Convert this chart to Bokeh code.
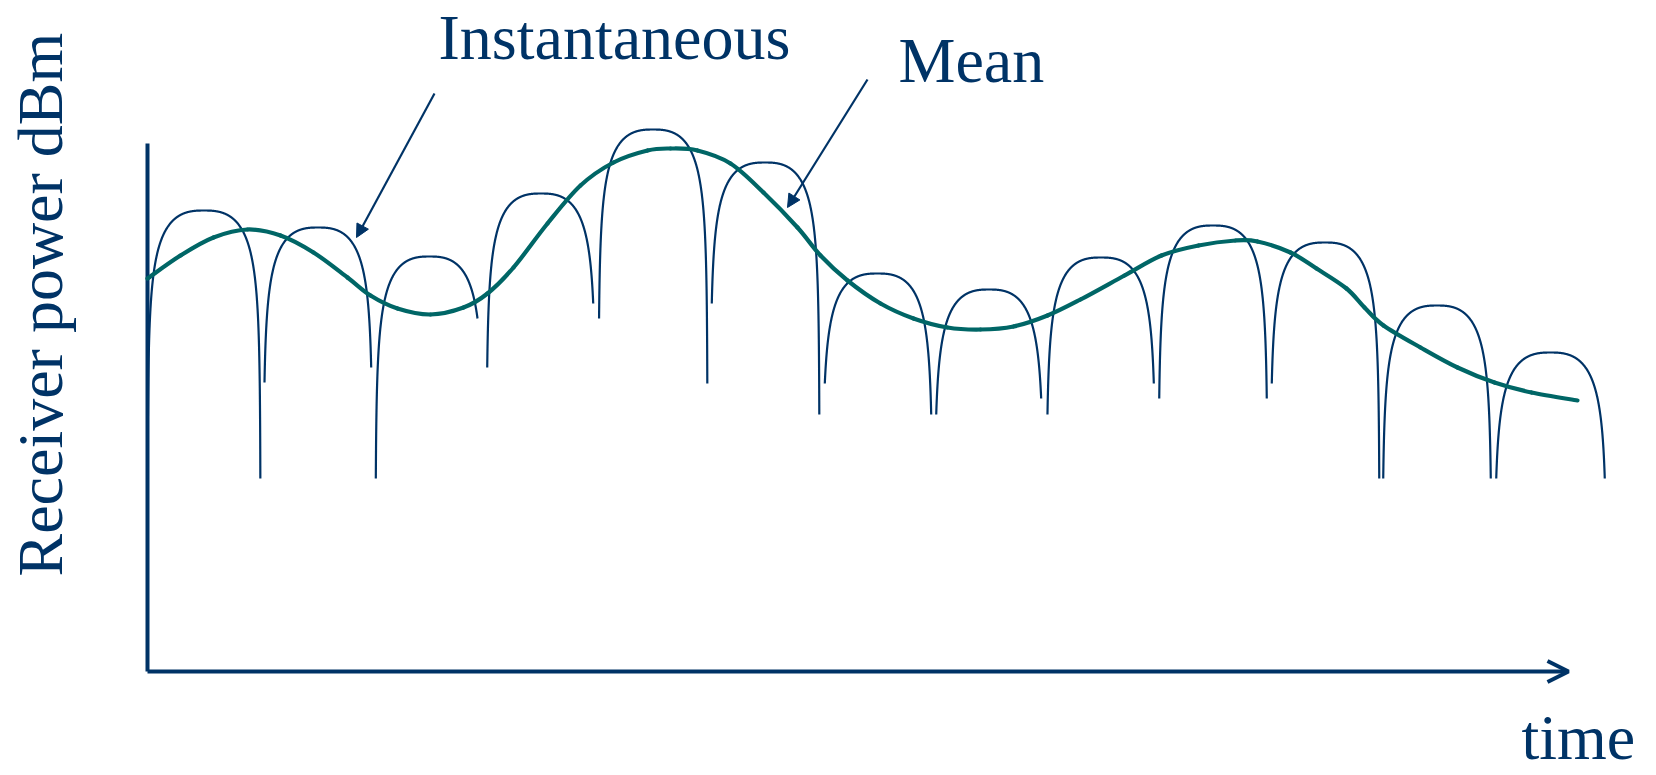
import numpy as np
from bokeh.plotting import figure
from bokeh.models import Range1d, Label, Arrow, OpenHead, NormalHead
from bokeh.embed import file_html
from bokeh.resources import INLINE

# ---------------- data (time units, relative power units above the time axis) ----------------
# Instantaneous (fading) power: one arch per fade interval
arch_start = [0, 116, 228, 339, 451, 563, 675, 787, 899, 1011, 1123, 1235, 1347]
arch_end = [113, 225, 336, 448, 560, 672, 785, 896, 1008, 1120, 1232, 1344, 1459]
arch_peak = [461, 444, 415, 478, 542, 509, 398, 382, 414, 446, 429, 366, 319]
arch_floor_left = [193, 289, 193, 304, 353, 368, 288, 257, 257, 273, 288, 193, 193]
arch_floor_right = [193, 304, 353, 368, 288, 257, 257, 273, 288, 273, 193, 193, 193]

# Mean (local average) power
mean_t = [0, 33, 66, 100, 133, 166, 200, 223, 250, 283, 316, 340, 366, 400, 433, 466,
          500, 523, 550, 583, 616, 650, 673, 700, 733, 766, 800, 833, 866, 900, 933,
          977, 1014, 1051, 1088, 1110, 1143, 1169, 1199, 1217, 1236, 1273, 1310, 1347,
          1384, 1430]
mean_p = [393, 416, 434, 442, 436, 419, 394, 376, 363, 357, 364, 378, 404, 448, 486, 509,
          521, 523, 521, 508, 479, 444, 416, 391, 368, 353, 344, 342, 345, 356, 372,
          396, 416, 426, 431, 430, 419, 403, 383, 364, 346, 324, 304, 289, 279, 271]

# axes extents and annotation anchors
axis_top = 528
axis_right = 1421
labels = ["Instantaneous", "Mean", "time", "Receiver power dBm"]
label_x = [291, 751, 1374, -107]
label_y = [634, 611, -66, 95]
pointer_from = [(287, 578), (720, 592)]
pointer_to = [(209, 434), (640, 464)]

# ---------------- style ----------------
NAVY = "#003366"
TEAL = "#006666"
FONT = "Liberation Serif"
FADE_K = 1.8      # power units per (dB of fade depth)^FADE_P
FADE_P = 1.3

p = figure(width=1656, height=775, output_backend="svg", toolbar_location=None,
           x_range=Range1d(-147, 1509), y_range=Range1d(-104, 671),
           x_axis_location=None, y_axis_location=None, min_border=0)
p.outline_line_color = None
p.grid.visible = False
p.background_fill_color = "white"
p.border_fill_color = "white"

# axes
p.segment(x0=[0], y0=[0], x1=[0], y1=[axis_top], line_color=NAVY, line_width=4)
p.add_layout(Arrow(x_start=0, y_start=0, x_end=axis_right, y_end=0,
                   line_color=NAVY, line_width=4,
                   end=OpenHead(size=21, line_color=NAVY, line_width=4)))


def fade_depth(u):
    d = -20 * np.log10(np.clip(np.sin(np.pi * u), 1e-12, None))
    return FADE_K * d ** FADE_P


def edge_u(drop):
    d = (drop / FADE_K) ** (1 / FADE_P)
    return np.arcsin(10 ** (-d / 20)) / np.pi


# instantaneous arches (fading profile, clipped at each fade floor)
xs, ys = [], []
for t0, t1, pk, fl, fr in zip(arch_start, arch_end, arch_peak, arch_floor_left, arch_floor_right):
    ul = edge_u(pk - fl)
    ur = 1 - edge_u(pk - fr)
    s = np.linspace(0, 1, 800)
    u = ul + (ur - ul) * (0.5 - 0.5 * np.cos(np.pi * s))
    y = pk - fade_depth(u)
    y = np.where(u < 0.5, np.maximum(y, fl), np.maximum(y, fr))
    xs.append(list(t0 + (t1 - t0) * u))
    ys.append(list(y))
p.multi_line(xs=xs, ys=ys, line_color=NAVY, line_width=2.2, line_join="round")

# mean curve: smooth cubic segments through the read points (Catmull-Rom tangents)
P = np.column_stack([mean_t, mean_p]).astype(float)
n = len(P)
x0, y0, x1, y1, cx0, cy0, cx1, cy1 = ([] for _ in range(8))
for i in range(n - 1):
    pa = P[i - 1] if i > 0 else P[i]
    pb, pc = P[i], P[i + 1]
    pd = P[i + 2] if i + 2 < n else P[i + 1]
    c1 = pb + (pc - pa) / 6
    c2 = pc - (pd - pb) / 6
    x0.append(pb[0]); y0.append(pb[1]); x1.append(pc[0]); y1.append(pc[1])
    cx0.append(c1[0]); cy0.append(c1[1]); cx1.append(c2[0]); cy1.append(c2[1])
p.bezier(x0=x0, y0=y0, x1=x1, y1=y1, cx0=cx0, cy0=cy0, cx1=cx1, cy1=cy1,
         line_color=TEAL, line_width=4.2, line_cap="round")

# pointers
for (xa, ya), (xb, yb) in zip(pointer_from, pointer_to):
    p.add_layout(Arrow(x_start=xa, y_start=ya, x_end=xb, y_end=yb,
                       line_color=NAVY, line_width=2.2,
                       end=NormalHead(size=13, fill_color=NAVY, line_color=NAVY, line_width=1)))

# texts
for txt, lx, ly in zip(labels, label_x, label_y):
    ang = np.pi / 2 if txt.startswith("Receiver") else 0
    p.add_layout(Label(x=lx, y=ly, text=txt, angle=ang, text_font=FONT,
                       text_font_size="64px", text_color=NAVY,
                       text_baseline="alphabetic", text_align="left"))

open("out.html", "w").write(file_html(p, INLINE))
